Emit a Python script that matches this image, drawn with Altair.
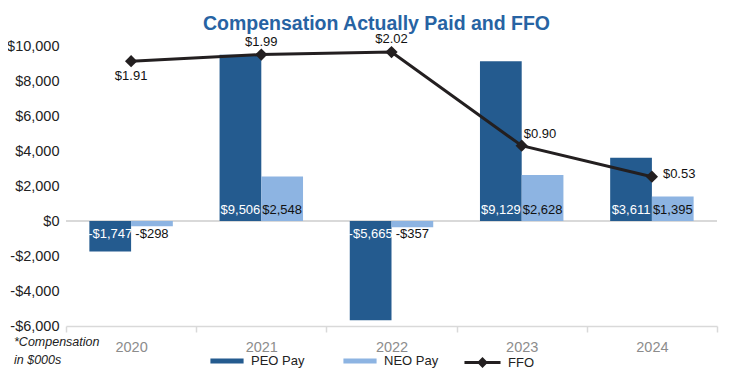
import altair as alt
import pandas as pd

# ---- data ----
years = ["2020", "2021", "2022", "2023", "2024"]
peo_pay = [-1747, 9506, -5665, 9129, 3611]
neo_pay = [-298, 2548, -357, 2628, 1395]
ffo = [1.91, 1.99, 2.02, 0.90, 0.53]
bar_series = ["PEO Pay", "NEO Pay"]
bar_colors = ["#245b8f", "#8db4e2"]
line_name = "FFO"
line_color = "#231f20"
y_ticks = [-6000, -4000, -2000, 0, 2000, 4000, 6000, 8000, 10000]
footnote = ["*Compensation", "in $000s"]

bar_rows = []
for y, p, n in zip(years, peo_pay, neo_pay):
    bar_rows.append({"Year": y, "Series": "PEO Pay", "Value": p})
    bar_rows.append({"Year": y, "Series": "NEO Pay", "Value": n})
bar_df = pd.DataFrame(bar_rows)
ffo_df = pd.DataFrame({"Year": years, "FFO": ffo, "Series": [line_name] * len(years)})
foot_df = pd.DataFrame({"t": ["\n".join(footnote)]})

W, H = 651, 280
FONT = "Liberation Sans"

X = alt.X(
    "Year:N", sort=years,
    scale=alt.Scale(paddingInner=0, paddingOuter=0),
    axis=alt.Axis(title=None, labelAngle=0, labelColor="#8c8c8c", labelFontSize=14.5, grid=False,
                  labelPadding=8, domainColor="#d9d9d9", domainWidth=1.5,
                  tickColor="#d9d9d9", tickWidth=1.5, tickSize=6, tickBand="extent"),
)
XOFF = alt.XOffset("Series:N", sort=bar_series,
                   scale=alt.Scale(paddingInner=0, paddingOuter=0.56))

Y_SCALE = alt.Scale(domain=[-6000, 10000], nice=False)
Y_AXIS = alt.Axis(values=y_ticks, grid=False, domain=False, ticks=False, labelOverlap=False,
                  labelFontSize=14.5, labelColor="#222222", labelPadding=7, title=None,
                  labelExpr="(datum.value < 0 ? '-' : '') + '$' + format(abs(datum.value), ',')")

money_expr = "(datum.Value < 0 ? '-' : '') + '$' + format(abs(datum.Value), ',')"

diamond_line = "M-1,-0.09H1V0.09H-1Z M0,-0.3L0.3,0L0,0.3L-0.3,0Z"
flat_rect = "M-1,-0.15H1V0.15H-1Z"

COLOR = alt.Color(
    "Series:N", scale=alt.Scale(domain=bar_series, range=bar_colors),
    legend=alt.Legend(title=None, orient="none", legendX=144, legendY=298, direction="horizontal",
                      labelFontSize=13, labelColor="#222222", labelFont=FONT, columnPadding=38,
                      labelOffset=7, symbolSize=1100, padding=0, symbolType=flat_rect,
                      symbolStrokeWidth=0))

zero_rule = alt.Chart(bar_df).mark_rule(color="#d9d9d9", strokeWidth=1.5).encode(
    y=alt.YDatum(0, scale=Y_SCALE, axis=Y_AXIS))

bars = alt.Chart(bar_df).mark_bar().encode(
    x=X, xOffset=XOFF,
    y=alt.Y("Value:Q", title=None, scale=Y_SCALE, axis=Y_AXIS),
    color=COLOR,
)

label_color = alt.condition("datum.Series == 'PEO Pay'", alt.value("white"), alt.value("#111111"))
pos_labels = alt.Chart(bar_df).transform_filter("datum.Value >= 0").transform_calculate(
    label=money_expr).mark_text(baseline="bottom", dy=-4, fontSize=13).encode(
    x=X, xOffset=XOFF, y=alt.YDatum(0, scale=Y_SCALE, axis=Y_AXIS), text="label:N", color=label_color)
neg_labels = alt.Chart(bar_df).transform_filter("datum.Value < 0").transform_calculate(
    label=money_expr).mark_text(baseline="top", dy=7, fontSize=13).encode(
    x=X, xOffset=XOFF, y=alt.YDatum(0, scale=Y_SCALE, axis=Y_AXIS), text="label:N", color=label_color)

bar_layer = alt.layer(zero_rule, bars, pos_labels, neg_labels)

FY = alt.Y("FFO:Q", scale=alt.Scale(domain=[-1.255, 2.092], nice=False, zero=False), axis=None)
line = alt.Chart(ffo_df).mark_line(strokeWidth=3, color=line_color).encode(x=X, y=FY)
points = alt.Chart(ffo_df).mark_point(shape="diamond", filled=True, size=150, opacity=1,
                                      color=line_color).encode(
    x=X, y=FY,
    strokeDash=alt.StrokeDash(
        "Series:N", scale=alt.Scale(domain=[line_name], range=[[1, 0]]),
        legend=alt.Legend(title=None, orient="none", legendX=398, legendY=298,
                          labelFontSize=13, labelColor="#222222", labelFont=FONT,
                          labelOffset=7, symbolSize=1300, padding=0, symbolType=diamond_line,
                          symbolFillColor=line_color, symbolStrokeWidth=0)))


def ffo_text(sel, **kw):
    cond = " || ".join(f"datum.Year == '{s}'" for s in sel)
    return alt.Chart(ffo_df).transform_filter(cond).transform_calculate(
        label="'$' + format(datum.FFO, '.2f')").mark_text(fontSize=13, color="#111111", **kw).encode(
        x=X, y=FY, text="label:N")


ffo_layer = alt.layer(
    line, points,
    ffo_text(["2020"], baseline="top", dy=9),
    ffo_text(["2021", "2022"], baseline="bottom", dy=-6),
    ffo_text(["2023"], align="left", baseline="bottom", dx=2, dy=-5),
    ffo_text(["2024"], align="left", baseline="middle", dx=11, dy=-3),
)

foot = alt.Chart(foot_df).mark_text(
    align="left", baseline="middle", fontStyle="italic", fontSize=12.5, lineHeight=18,
    lineBreak="\n", color="#222222").encode(
    x=alt.value(-52), y=alt.value(H + 16), text="t:N")

chart = (
    alt.layer(bar_layer, ffo_layer, foot)
    .resolve_scale(y="independent")
    .properties(
        width=W, height=H,
        title=alt.TitleParams("Compensation Actually Paid and FFO", fontSize=19.5, fontWeight="bold",
                              color="#2763a3", anchor="middle", offset=14, dx=-15, dy=15, font=FONT),
        autosize=alt.AutoSizeParams(type="none"),
        padding={"left": 58, "top": 38, "right": 6, "bottom": 46},
    )
    .configure(font=FONT)
    .configure_view(strokeWidth=0, stroke="transparent")
    .configure_axis(grid=False)
    .configure_axisY(labelOverlap=False)
)

chart.save("out.html", embed_options={"renderer": "svg", "actions": False})
